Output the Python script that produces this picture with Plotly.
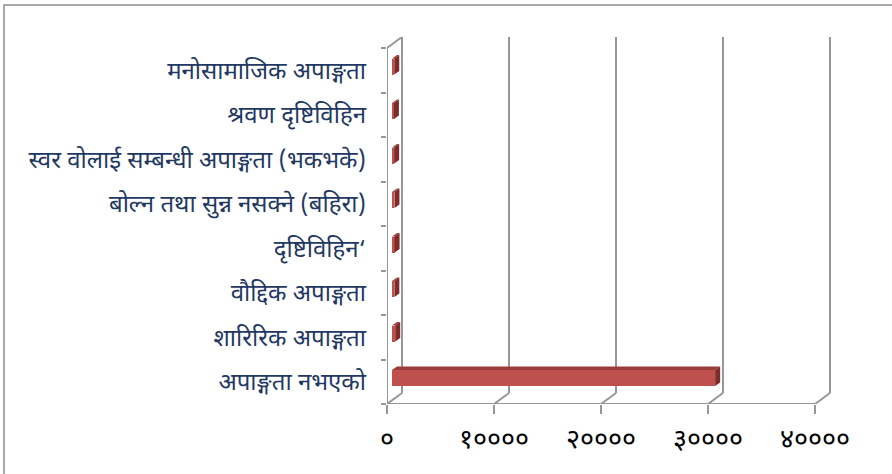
import plotly.graph_objects as go

# ---- data (bottom to top, as drawn) ----
categories = [
    "अपाङ्गता नभएको",
    "शारिरिक अपाङ्गता",
    "वौद्दिक अपाङ्गता",
    "दृष्टिविहिन‘",
    "बोल्न तथा सुन्न नसक्ने (बहिरा)",
    "स्वर वोलाई सम्बन्धी अपाङ्गता (भकभके)",
    "श्रवण दृष्टिविहिन",
    "मनोसामाजिक अपाङ्गता",
]
values = [30200, 300, 220, 240, 230, 200, 180, 210]
x_tick_values = [0, 10000, 20000, 30000, 40000]
x_tick_labels = ["०", "१००००", "२००००", "३००००", "४००००"]

# ---- layout geometry (pixels) ----
W, H = 892, 474
L, R_EDGE, T, B = 387, 840, 37, 404
plot_w, plot_h = R_EDGE - L, B - T
X_MAX = x_tick_values[-1]
X_PER_PX = X_MAX / 428.0          # front axis: 0 -> 40000 spans 428 px
CAT_PX = 44.5                     # pixel height of one category
x_range = [0, plot_w * X_PER_PX]
y_range = [-0.5, -0.5 + plot_h / CAT_PX]

# 3D depth offsets (back wall relative to front)
DX = 15 * X_PER_PX
DY = 11 / CAT_PX
# bar sits between 1/3 and 2/3 of the depth
BX0, BY0 = DX / 3, DY / 3
BDX, BDY = DX / 3, DY / 3
BAR_W = 16 / CAT_PX

font_dev = "Noto Sans Devanagari, Lohit Devanagari, Mangal, FreeSans, Noto Sans, sans-serif"
grid_col = "#979797"

fig = go.Figure()

ypos = list(range(len(categories)))
fig.add_trace(go.Bar(
    orientation="h", y=ypos, x=values, base=[BX0] * len(values),
    width=BAR_W, offset=-BAR_W / 2 + BY0,
    marker=dict(color="#C0504D", line=dict(width=0)),
    hovertext=categories, showlegend=False,
))

# top and side faces
top_x, top_y, side_x, side_y = [], [], [], []
for i, v in enumerate(values):
    yb = i - BAR_W / 2 + BY0
    yt = yb + BAR_W
    x0, x1 = BX0, BX0 + v
    top_x += [x0, x1, x1 + BDX, x0 + BDX, x0, None]
    top_y += [yt, yt, yt + BDY, yt + BDY, yt, None]
    side_x += [x1, x1, x1 + BDX, x1 + BDX, x1, None]
    side_y += [yb, yt, yt + BDY, yb + BDY, yb, None]

fig.add_trace(go.Scatter(x=top_x, y=top_y, mode="lines", fill="toself",
                         fillcolor="#9B3B39", line=dict(width=0, color="#9B3B39"),
                         hoverinfo="skip", showlegend=False))
fig.add_trace(go.Scatter(x=side_x, y=side_y, mode="lines", fill="toself",
                         fillcolor="#7E2C2A", line=dict(width=0, color="#7E2C2A"),
                         hoverinfo="skip", showlegend=False))

shapes = []
y_lo, y_hi = -0.5, len(categories) - 0.5
# back-wall gridlines and floor diagonals
for xv in x_tick_values:
    shapes.append(dict(type="line", xref="x", yref="y", x0=xv + DX, x1=xv + DX,
                       y0=y_lo + DY, y1=y_hi + DY, line=dict(color=grid_col, width=2),
                       layer="below"))
    shapes.append(dict(type="line", xref="x", yref="y", x0=xv, x1=xv + DX,
                       y0=y_lo, y1=y_lo + DY, line=dict(color=grid_col, width=2),
                       layer="below"))
# front floor line
shapes.append(dict(type="line", xref="x", yref="y", x0=0, x1=X_MAX, y0=y_lo, y1=y_lo,
                   line=dict(color=grid_col, width=2), layer="below"))
# side wall: front vertical and top diagonal
shapes.append(dict(type="line", xref="x", yref="y", x0=0, x1=0, y0=y_lo, y1=y_hi,
                   line=dict(color=grid_col, width=2), layer="below"))
shapes.append(dict(type="line", xref="x", yref="y", x0=0, x1=DX, y0=y_hi, y1=y_hi + DY,
                   line=dict(color=grid_col, width=2), layer="below"))
# outer chart border (partially off-canvas)
shapes.append(dict(type="rect", xref="paper", yref="paper",
                   x0=(4 - L) / plot_w, x1=(W + 10 - L) / plot_w,
                   y0=(B - (H + 10)) / plot_h, y1=(B - 5) / plot_h,
                   line=dict(color="#AAAAAA", width=2), layer="below"))

fig.update_layout(
    width=W, height=H, autosize=False,
    margin=dict(l=L, r=W - R_EDGE, t=T, b=H - B, pad=0),
    paper_bgcolor="white", plot_bgcolor="white",
    shapes=shapes, showlegend=False, bargap=0,
    xaxis=dict(range=x_range, tickvals=x_tick_values, ticktext=x_tick_labels,
               showgrid=False, zeroline=False, showline=False,
               ticks="outside", ticklen=9, tickwidth=2, tickcolor=grid_col,
               tickfont=dict(family=font_dev, size=27, color="#000000"),
               ticklabelstandoff=2, fixedrange=True),
    yaxis=dict(range=y_range, tickvals=ypos, ticktext=categories,
               showgrid=False, zeroline=False, showline=False, ticks="",
               tickfont=dict(family=font_dev, size=24, color="#1F3864"),
               ticklabelstandoff=20,
               minor=dict(ticks="outside", ticklen=5, tickwidth=2, tickcolor=grid_col,
                          tick0=-0.5, dtick=1, showgrid=False),
               fixedrange=True),
)

fig.write_html("out.html", config={"displayModeBar": False},
               post_script="document.body.style.margin='0';document.body.style.overflow='hidden';")
